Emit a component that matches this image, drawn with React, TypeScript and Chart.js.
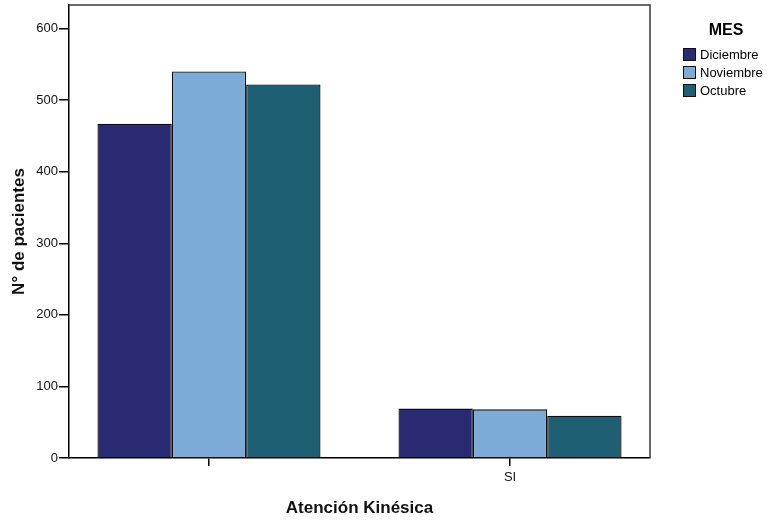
import React, { useEffect, useRef } from "react";
import { Chart, registerables } from "chart.js";

Chart.register(...registerables);

const categoryPositions = [0, 1];
const categoryLabels = ["", "SI"];
const seriesNames = ["Diciembre", "Noviembre", "Octubre"];
const diciembre = [467, 69];
const noviembre = [540, 68];
const octubre = [522, 59];
const seriesColors = ["#2a2a72", "#7babd6", "#1e5f74"];
const yTicks = [0, 100, 200, 300, 400, 500, 600];
const legendTitle = "MES";
const xTitle = "Atención Kinésica";
const yTitle = "N° de pacientes";

const FONT = '"Liberation Sans", Arial, Helvetica, sans-serif';

const boxPlugin = {
  id: "boxPlugin",
  afterDraw(chart: any) {
    const { ctx, chartArea } = chart;
    ctx.save();
    ctx.strokeStyle = "#3a3a3a";
    ctx.lineWidth = 1.5;
    ctx.beginPath();
    ctx.moveTo(chartArea.left, chartArea.top);
    ctx.lineTo(chartArea.right, chartArea.top);
    ctx.lineTo(chartArea.right, chartArea.bottom);
    ctx.stroke();
    ctx.restore();
  },
};

const legendPlugin = {
  id: "customLegend",
  afterDraw(chart: any) {
    const ctx = chart.ctx;
    ctx.save();
    ctx.fillStyle = "#000";
    ctx.font = `bold 16px ${FONT}`;
    ctx.textAlign = "center";
    ctx.textBaseline = "middle";
    ctx.fillText(legendTitle, 726, 31);
    chart.data.datasets.forEach((ds: any, i: number) => {
      const y = 54.5 + i * 18;
      ctx.fillStyle = ds.backgroundColor;
      ctx.fillRect(683, y - 6.5, 13, 13);
      ctx.strokeStyle = "#111";
      ctx.lineWidth = 1;
      ctx.strokeRect(683.5, y - 6, 12, 12);
      ctx.fillStyle = "#000";
      ctx.font = `13px ${FONT}`;
      ctx.textAlign = "left";
      ctx.fillText(ds.label, 700, y + 0.5);
    });
    ctx.restore();
  },
};

export default function App() {
  const ref = useRef<HTMLCanvasElement | null>(null);

  useEffect(() => {
    if (!ref.current) return;
    const series = [diciembre, noviembre, octubre];
    const chart = new Chart(ref.current, {
      type: "bar",
      data: {
        datasets: series.map((vals, i) => ({
          label: seriesNames[i],
          data: vals.map((v, j) => ({ x: categoryPositions[j], y: v })),
          backgroundColor: seriesColors[i],
          borderColor: "#0d0d0d",
          borderWidth: 1.3,
          categoryPercentage: 0.741,
          barPercentage: 1,
        })),
      },
      options: {
        animation: false,
        responsive: true,
        maintainAspectRatio: false,
        layout: { padding: { top: 5, right: 120, left: 0, bottom: 0 } },
        plugins: {
          legend: { display: false },
          tooltip: { enabled: false },
        },
        scales: {
          x: {
            type: "linear",
            offset: false,
            min: -0.465,
            max: 1.465,
            afterBuildTicks: (scale: any) => {
              scale.ticks = categoryPositions.map((v) => ({ value: v }));
            },
            afterFit: (scale: any) => {
              scale.height = 65;
              scale.paddingLeft = 0;
              scale.paddingRight = 0;
            },
            grid: {
              offset: false,
              drawOnChartArea: false,
              drawTicks: true,
              tickLength: 8,
              color: "#000",
              lineWidth: 1.5,
            },
            border: { display: true, color: "#000", width: 1.5 },
            ticks: {
              autoSkip: false,
              maxRotation: 0,
              padding: 4,
              color: "#111",
              font: { family: FONT, size: 13 },
              callback: (v: any) => {
                const idx = categoryPositions.indexOf(Number(v));
                return idx >= 0 ? categoryLabels[idx] : "";
              },
            },
            title: {
              display: true,
              text: xTitle,
              color: "#111",
              font: { family: FONT, size: 17, weight: "bold" },
              padding: { top: 6, bottom: 4 },
            },
          },
          y: {
            min: 0,
            max: 633,
            afterBuildTicks: (scale: any) => {
              scale.ticks = yTicks.map((v) => ({ value: v }));
            },
            afterFit: (scale: any) => {
              scale.width = 69;
              scale.paddingTop = 0;
              scale.paddingBottom = 0;
            },
            grid: {
              drawOnChartArea: false,
              drawTicks: true,
              tickLength: 10,
              color: "#000",
              lineWidth: 1.5,
            },
            border: { display: true, color: "#000", width: 1.5 },
            ticks: {
              padding: 1,
              color: "#111",
              font: { family: FONT, size: 13 },
            },
            title: {
              display: true,
              text: yTitle,
              color: "#111",
              font: { family: FONT, size: 17, weight: "bold" },
              padding: { top: 9, bottom: 0 },
            },
          },
        },
      } as any,
      plugins: [boxPlugin, legendPlugin],
    });
    return () => chart.destroy();
  }, []);

  return (
    <div
      style={{
        position: "absolute",
        left: 0,
        top: 0,
        width: 770,
        height: 523,
        background: "#fff",
      }}
    >
      <canvas ref={ref} />
    </div>
  );
}
